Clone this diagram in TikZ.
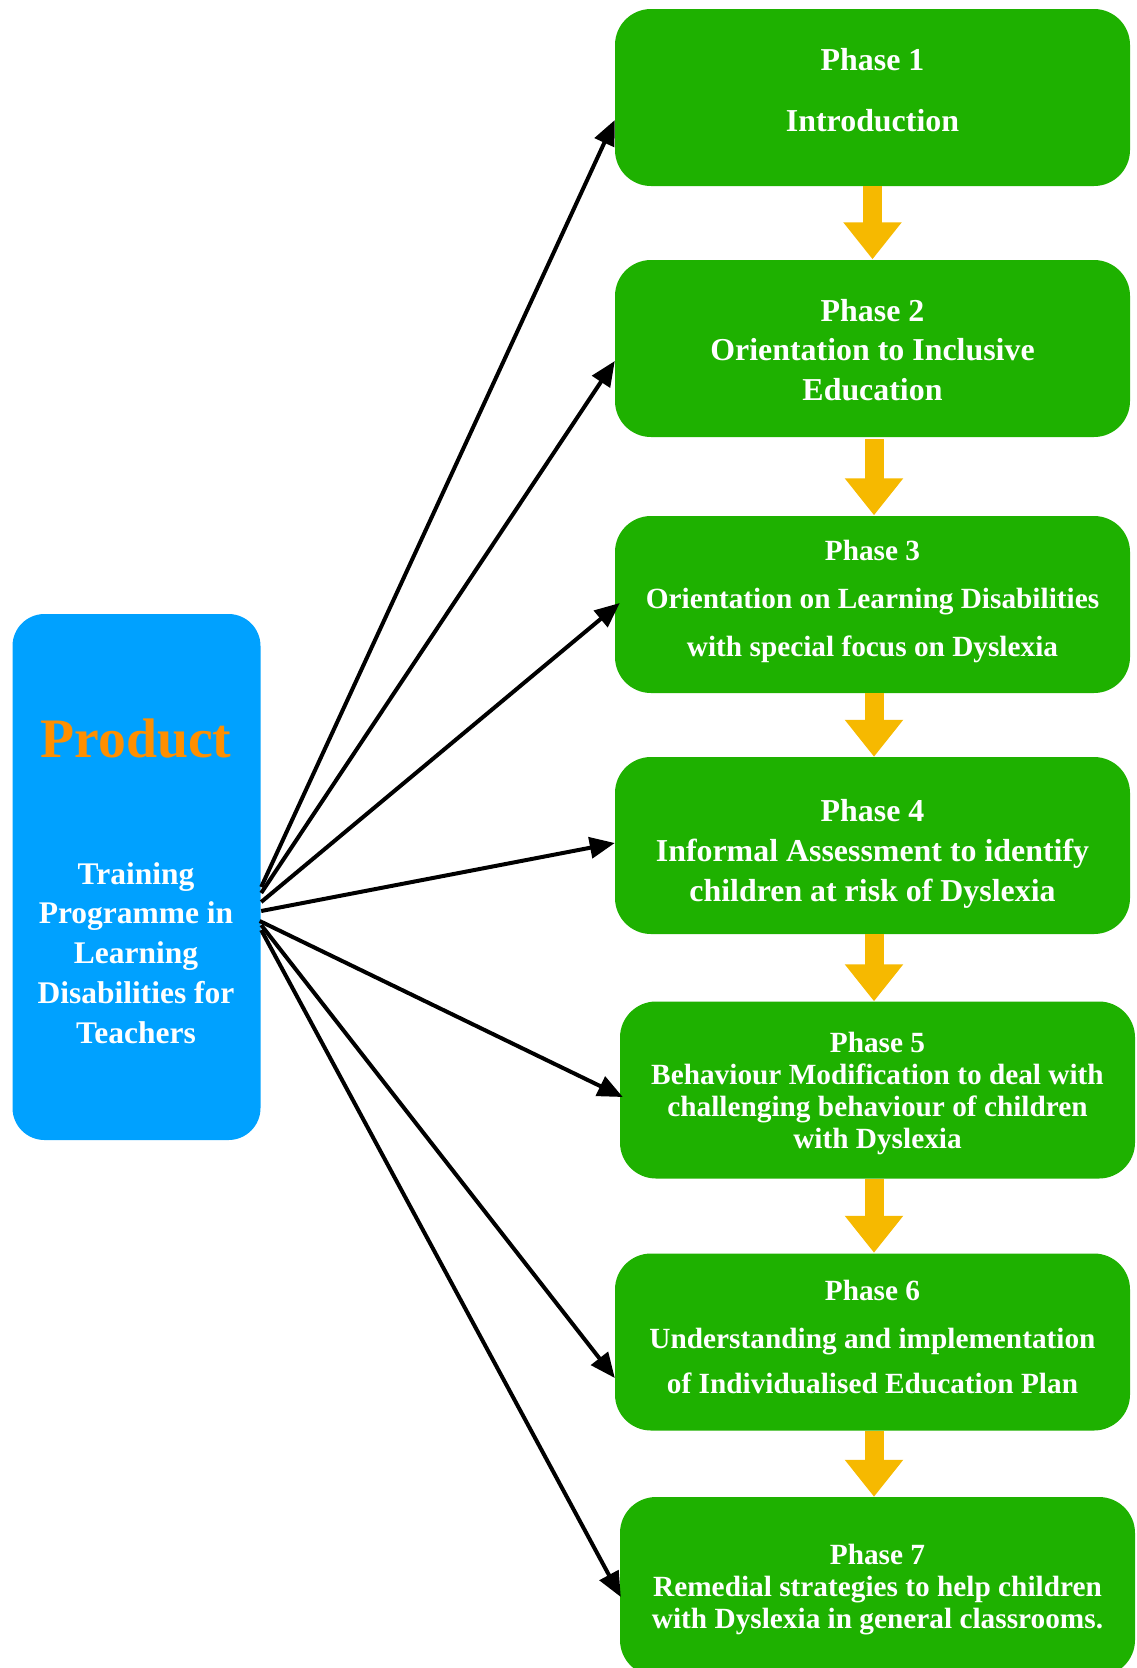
\documentclass[tikz,border=0pt]{standalone}
\usepackage{fontspec}
\setmainfont{Liberation Serif}
\usetikzlibrary{arrows.meta,calc}
\definecolor{phasegreen}{RGB}{30,177,0}
\definecolor{prodblue}{RGB}{0,161,255}
\definecolor{prodorange}{RGB}{255,143,0}
\definecolor{flowyellow}{RGB}{246,185,0}

\begin{document}
\begin{tikzpicture}[x=1pt,y=-1pt,
  phasebox/.style={fill=phasegreen, rounded corners=36pt, minimum width=515pt,
    minimum height=177pt, inner sep=0pt},
  prodbox/.style={fill=prodblue, rounded corners=32pt, minimum width=248pt,
    minimum height=526pt, inner sep=0pt},
  bigline/.style={font=\fontsize{31.9}{31.9}\selectfont\bfseries, text=white,
    inner sep=0pt, anchor=base},
  smallline/.style={font=\fontsize{29.3}{29.3}\selectfont\bfseries, text=white,
    inner sep=0pt, anchor=base},
  prodline/.style={font=\fontsize{31.5}{31.5}\selectfont\bfseries, text=white,
    inner sep=0pt, anchor=base},
  flow/.style={draw=flowyellow, line width=19pt,
    -{Triangle[length=37pt,width=56pt]}},
  link/.style={draw=black, line width=4pt,
    -{Triangle[length=25pt,width=21pt]}}
]
\useasboundingbox (0,0) rectangle (1136,1668);

% product box
\node[prodbox] (prod) at (136.5,877) {};
\node[font=\fontsize{55.7}{56}\selectfont\bfseries, text=prodorange,
  inner sep=0pt, anchor=base] (prodtitle) at (136,757.5) {Product};
\node[prodline] (pl1) at (136,884) {Training};
\node[prodline] (pl2) at (136,923.5) {Programme in};
\node[prodline] (pl3) at (136,963) {Learning};
\node[prodline] (pl4) at (136,1003) {Disabilities for};
\node[prodline] (pl5) at (136,1043) {Teachers};

% phase boxes
\node[phasebox] (p1) at (872.5,97.5) {};
\node[phasebox] (p2) at (872.5,348.5) {};
\node[phasebox] (p3) at (872.5,604.5) {};
\node[phasebox] (p4) at (872.5,845.5) {};
\node[phasebox] (p5) at (877.5,1090) {};
\node[phasebox] (p6) at (872.5,1342) {};
\node[phasebox, minimum height=179pt] (p7) at (877.5,1586.5) {};

% phase texts
\node[bigline] (t1a) at (872.5,70) {Phase 1};
\node[bigline] (t1b) at (872.5,131) {Introduction};

\node[bigline] (t2a) at (872.5,321) {Phase 2};
\node[bigline] (t2b) at (872.5,360.5) {Orientation to Inclusive};
\node[bigline] (t2c) at (872.5,400.5) {Education};

\node[smallline] (t3a) at (872.5,560) {Phase 3};
\node[smallline] (t3b) at (872.5,608) {Orientation on Learning Disabilities};
\node[smallline] (t3c) at (872.5,656) {with special focus on Dyslexia};

\node[bigline] (t4a) at (872.5,821) {Phase 4};
\node[bigline] (t4b) at (872.5,861) {Informal Assessment to identify};
\node[bigline] (t4c) at (872.5,901) {children at risk of Dyslexia};

\node[smallline] (t5a) at (877.5,1052.5) {Phase 5};
\node[smallline] (t5b) at (877.5,1084) {Behaviour Modification to deal with};
\node[smallline] (t5c) at (877.5,1116) {challenging behaviour of children};
\node[smallline] (t5d) at (877.5,1148) {with Dyslexia};

\node[smallline] (t6a) at (872.5,1300) {Phase 6};
\node[smallline] (t6b) at (872.5,1348) {Understanding and implementation};
\node[smallline] (t6c) at (872.5,1393) {of Individualised Education Plan};

\node[smallline] (t7a) at (877.5,1564) {Phase 7};
\node[smallline] (t7b) at (877.5,1596) {Remedial strategies to help children};
\node[smallline] (t7c) at (877.5,1628) {with Dyslexia in general classrooms.};

% yellow flow arrows between phases
\draw[flow] (p1.south) -- ($(p1.south |- p2.north)+(0,-0.5)$);
\draw[flow] ($(p2.south)+(1.5,2)$) -- ($(p2.south |- p3.north)+(1.5,-0.5)$);
\draw[flow] ($(p3.south)+(1.5,0)$) -- ($(p3.south |- p4.north)+(1.5,0)$);
\draw[flow] ($(p4.south)+(1.5,0)$) -- ($(p4.south |- p5.north)+(1.5,0)$);
\draw[flow] ($(p5.south)+(-3.5,0)$) -- ($(p5.south |- p6.north)+(-3.5,-0.5)$);
\draw[flow] ($(p6.south)+(1.5,0)$) -- ($(p6.south |- p7.north)+(1.5,0)$);

% black links from the product to each phase
\draw[link] ($(prod.east)+(0.5,10)$) -- ($(p1.west)+(0,22.5)$);
\draw[link] ($(prod.east)+(0.5,16)$) -- ($(p2.west)+(0,12.5)$);
\draw[link] ($(prod.east)+(0.5,25)$) -- ($(p3.west)+(5,-1.5)$);
\draw[link] ($(prod.east)+(0.5,34)$) -- ($(p4.west)+(0,-2.5)$);
\draw[link] ($(prod.east)+(-1,44)$) -- ($(p5.west)+(3,7)$);
\draw[link] ($(prod.east)+(0.5,48)$) -- ($(p6.west)+(0,36)$);
\draw[link] ($(prod.east)+(0.5,53)$) -- ($(p7.west)+(1,10.5)$);
\end{tikzpicture}
\end{document}
